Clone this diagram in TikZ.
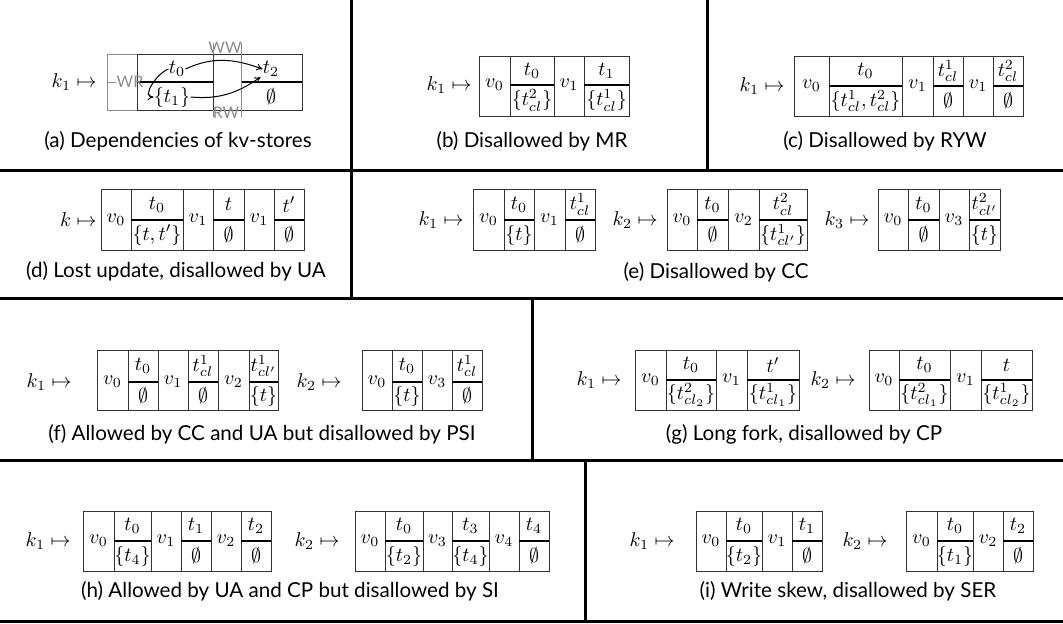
\documentclass[tikz,border=0pt]{standalone}
\usepackage[no-math]{fontspec}
\setmainfont{Lato}
\usetikzlibrary{arrows.meta}
\tikzset{
  cellb/.style={draw=black!80, line width=0.45pt},
  midrule/.style={draw=black, line width=0.75pt},
  panelsep/.style={line width=1.5pt},
  captext/.style={inner sep=0, font=\fontsize{10.3}{12}\selectfont},
  klabel/.style={inner sep=0, anchor=east},
  celltext/.style={inner sep=0},
  graylbl/.style={inner sep=0, text=black!45, font=\fontsize{8}{9}\selectfont},
  grayline/.style={draw=black!45, line width=0.45pt},
  deparr/.style={line width=0.5pt, -{To[length=3pt,width=3.5pt]}},
}
\newcommand\VC[3]{%
  \draw[cellb] (#1,\yt) rectangle (#2,\yb);
  \node[celltext] at ({(#1+#2)/2},\ym) {$#3$};}
\newcommand\TC[4]{%
  \draw[cellb] (#1,\yt) rectangle (#2,\yb);
  \draw[midrule] (#1,\ym) -- (#2,\ym);
  \node[celltext] at ({(#1+#2)/2},{(\yt+\ym)/2}) {$#3$};
  \node[celltext] at ({(#1+#2)/2},{(\ym+\yb)/2}) {$#4$};}
\begin{document}
\begin{tikzpicture}[x=0.5pt,y=-0.5pt]
\useasboundingbox (0,0) rectangle (1063,623);
% panel separators
\draw[panelsep] (0,170) -- (1063,170);
\draw[panelsep] (0,298) -- (1063,298);
\draw[panelsep] (0,460) -- (1063,460);
\draw[panelsep] (0,621) -- (1063,621);
\draw[panelsep] (351,0) -- (351,298);
\draw[panelsep] (707,0) -- (707,170);
\draw[panelsep] (532,298) -- (532,460);
\draw[panelsep] (585,460) -- (585,621);

% (a)
\node[klabel] (ka) at (97,82) {$k_1\mapsto$};
\draw[grayline] (107,54) rectangle (137,110);
\draw[grayline] (107,82) -- (116,82);
\draw[cellb] (137,54) rectangle (302,110);
\draw[midrule] (137,82) -- (213,82);
\draw[midrule] (241,82) -- (302,82);
\draw[cellb] (213,54) -- (213,110);
\draw[grayline] (213,43) -- (213,54) (213,110) -- (213,117);
\draw[grayline] (241,43) -- (241,117);
\node[celltext] (t0a) at (177,69) {$t_0$};
\node[celltext] (t1a) at (172,97) {$\{t_1\}$};
\node[celltext] (t2a) at (271,69) {$t_2$};
\node[celltext] (ea) at (271,97) {$\emptyset$};
\node[graylbl] (wr) at (130,82) {WR};
\node[graylbl] (ww) at (225,48) {WW};
\node[graylbl] (rw) at (226,113) {RW};
\draw[deparr] (t0a.east) to[out=25,in=160] (t2a.west);
\draw[deparr] (t1a.east) to[out=-5,in=215] ([xshift=-1]t2a.south west);
\draw[deparr] (t0a.west) to[out=200,in=180] (t1a.west);
\node[captext] (capa) at (178,141) {(a) Dependencies of kv-stores};

% (b)
\def\yt{56}\def\ym{85}\def\yb{116}
\node[klabel] (kb) at (472,85) {$k_1\mapsto$};
\VC{479}{510}{v_0}
\TC{510}{554}{t_0}{\{t^2_{cl}\}}
\VC{554}{584}{v_1}
\TC{584}{629}{t_1}{\{t^1_{cl}\}}
\node[captext] (capb) at (532,141) {(b) Disallowed by MR};

% (c)
\def\yt{56}\def\ym{86}\def\yb{116}
\node[klabel] (kc) at (785,86) {$k_1\mapsto$};
\VC{794}{829}{v_0}
\TC{829}{902}{t_0}{\{t^1_{cl}, t^2_{cl}\}}
\VC{902}{933}{v_1}
\TC{933}{963}{t^1_{cl}}{\emptyset}
\VC{963}{993}{v_1}
\TC{993}{1023}{t^2_{cl}}{\emptyset}
\node[captext] (capc) at (885,141) {(c) Disallowed by RYW};

% (d)
\def\yt{189}\def\ym{220}\def\yb{250}
\node[klabel] (kd) at (97,220) {$k\mapsto$};
\VC{101}{131}{v_0}
\TC{131}{183}{t_0}{\{t,t'\}}
\VC{183}{213}{v_1}
\TC{213}{244}{t}{\emptyset}
\VC{244}{274}{v_1}
\TC{274}{304}{t'}{\emptyset}
\node[captext] (capd) at (176,271) {(d) Lost update, disallowed by UA};

% (e)
\def\yt{189}\def\ym{220}\def\yb{250}
\node[klabel] (ke1) at (464,220) {$k_1\mapsto$};
\VC{473}{504}{v_0}
\TC{504}{534}{t_0}{\{t\}}
\VC{534}{565}{v_1}
\TC{565}{595}{t^1_{cl}}{\emptyset}
\node[klabel] (ke2) at (658,220) {$k_2\mapsto$};
\VC{667}{697}{v_0}
\TC{697}{728}{t_0}{\emptyset}
\VC{728}{759}{v_2}
\TC{759}{807}{t^2_{cl}}{\{t^1_{cl'}\}}
\node[klabel] (ke3) at (870,220) {$k_3\mapsto$};
\VC{878}{908}{v_0}
\TC{908}{939}{t_0}{\emptyset}
\VC{939}{969}{v_3}
\TC{969}{1000}{t^2_{cl'}}{\{t\}}
\node[captext] (cape) at (716,272) {(e) Disallowed by CC};

% (f)
\def\yt{350}\def\ym{382}\def\yb{410}
\node[klabel] (kf1) at (72,382) {$k_1\mapsto$};
\VC{97}{128}{v_0}
\TC{128}{158}{t_0}{\emptyset}
\VC{158}{188}{v_1}
\TC{188}{218}{t^1_{cl}}{\emptyset}
\VC{218}{249}{v_2}
\TC{249}{278}{t^1_{cl'}}{\{t\}}
\node[klabel] (kf2) at (342,382) {$k_2\mapsto$};
\VC{362}{392}{v_0}
\TC{392}{422}{t_0}{\{t\}}
\VC{422}{452}{v_3}
\TC{452}{482}{t^1_{cl}}{\emptyset}
\node[captext] (capf) at (262,434) {(f) Allowed by CC and UA but disallowed by PSI};

% (g)
\def\yt{350}\def\ym{380}\def\yb{410}
\node[klabel] (kg1) at (622,380) {$k_1\mapsto$};
\VC{635}{666}{v_0}
\TC{666}{716}{t_0}{\{t^2_{cl_2}\}}
\VC{716}{747}{v_1}
\TC{747}{799}{t'}{\{t^1_{cl_1}\}}
\node[klabel] (kg2) at (856,380) {$k_2\mapsto$};
\VC{869}{899}{v_0}
\TC{899}{950}{t_0}{\{t^2_{cl_1}\}}
\VC{950}{981}{v_1}
\TC{981}{1032}{t}{\{t^1_{cl_2}\}}
\node[captext] (capg) at (804,434) {(g) Long fork, disallowed by CP};

% (h)
\def\yt{511}\def\ym{541}\def\yb{571}
\node[klabel] (kh1) at (71,541) {$k_1\mapsto$};
\VC{83}{114}{v_0}
\TC{114}{151}{t_0}{\{t_4\}}
\VC{151}{181}{v_1}
\TC{181}{211}{t_1}{\emptyset}
\VC{211}{241}{v_2}
\TC{241}{271}{t_2}{\emptyset}
\node[klabel] (kh2) at (340,541) {$k_2\mapsto$};
\VC{355}{385}{v_0}
\TC{385}{423}{t_0}{\{t_2\}}
\VC{423}{452}{v_3}
\TC{452}{489}{t_3}{\{t_4\}}
\VC{489}{519}{v_4}
\TC{519}{549}{t_4}{\emptyset}
\node[captext] (caph) at (290,591) {(h) Allowed by UA and CP but disallowed by SI};

% (i)
\def\yt{511}\def\ym{541}\def\yb{571}
\node[klabel] (ki1) at (675,541) {$k_1\mapsto$};
\VC{696}{726}{v_0}
\TC{726}{762}{t_0}{\{t_2\}}
\VC{762}{792}{v_1}
\TC{792}{822}{t_1}{\emptyset}
\node[klabel] (ki2) at (888,541) {$k_2\mapsto$};
\VC{906}{937}{v_0}
\TC{937}{973}{t_0}{\{t_1\}}
\VC{973}{1003}{v_2}
\TC{1003}{1033}{t_2}{\emptyset}
\node[captext] (capi) at (848,591) {(i) Write skew, disallowed by SER};
\end{tikzpicture}
\end{document}
